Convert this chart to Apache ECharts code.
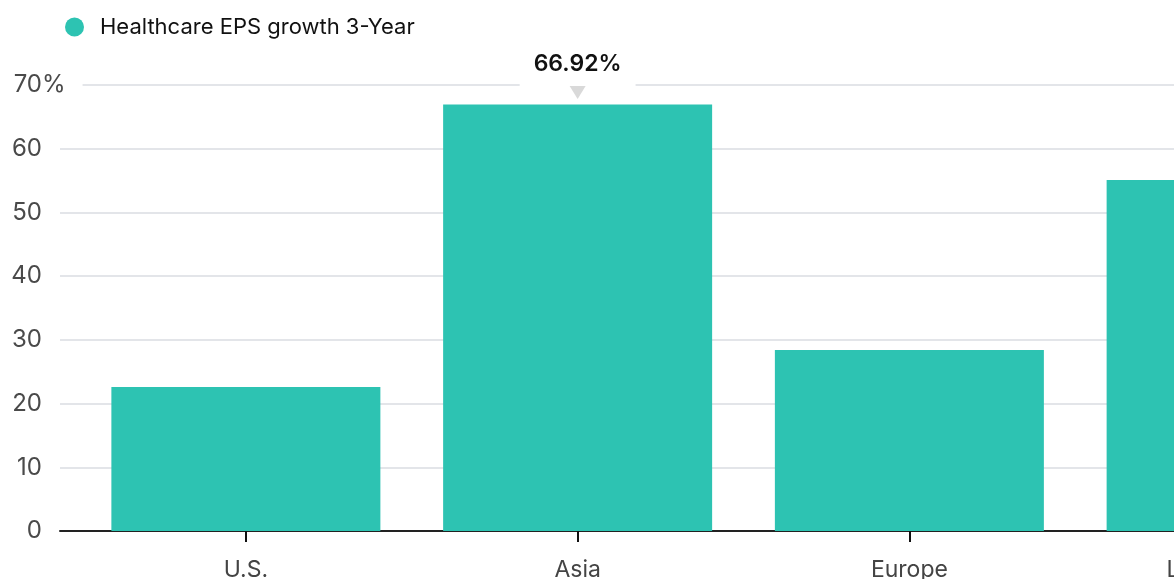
<!DOCTYPE html>
<html>
<head>
<meta charset="utf-8">
<script src="https://cdn.jsdelivr.net/npm/echarts@6/dist/echarts.min.js"></script>
<style>
  html, body { margin: 0; padding: 0; background: #fff; overflow: hidden; }
  .barChart { width: 1420px; height: 600px; }
</style>
</head>
<body>
<div class="barChart"></div>
<script>
// data
const categories = ['U.S.', 'Asia', 'Europe', 'Latin America'];
const epsGrowth = [22.6, 66.92, 28.4, 55.1];
const seriesName = 'Healthcare EPS growth 3-Year';
const yTicks = [0, 10, 20, 30, 40, 50, 60, 70];

const teal = '#2dc3b2';
const font = 'Inter, "Noto Sans", sans-serif';

class BarChart {
  constructor() {
    this.chartDom = document.querySelector('.barChart');
    this.mChart = echarts.init(this.chartDom);
  }

  setOption() {
    const yMin = yTicks[0], yMax = yTicks[yTicks.length - 1];
    // highlighted bar (the one with the tooltip-like label)
    const hi = 1;
    const data = epsGrowth.map((v, i) => i !== hi ? v : {
      value: v,
      label: {
        show: true,
        position: 'top',
        distance: 18,
        formatter: '{c}%',
        fontFamily: font,
        fontSize: 23,
        fontWeight: 600,
        color: '#111',
        backgroundColor: '#fff',
        padding: [9, 14, 11, 14]
      }
    });

    const gridBox = { right: 13, top: 85, height: 446 };

    this.option = {
      animation: false,
      textStyle: { fontFamily: font },
      legend: {
        left: 60,
        top: 11,
        icon: 'circle',
        itemWidth: 19,
        itemHeight: 19,
        itemGap: 10,
        textStyle: { fontSize: 22, color: '#111', fontFamily: font, padding: [0, 0, 0, 11] },
        data: [seriesName]
      },
      grid: [
        // background: gridlines, y labels, baseline
        Object.assign({ left: 60 }, gridBox),
        // bars
        Object.assign({ left: 80 }, gridBox),
        // '%' suffix on the top tick
        Object.assign({ left: 60 }, gridBox)
      ],
      xAxis: [
        {
          gridIndex: 0, type: 'value', min: 0, max: 1,
          axisLine: { show: true, lineStyle: { color: '#222', width: 2 } },
          axisTick: { show: false }, axisLabel: { show: false }, splitLine: { show: false }
        },
        {
          gridIndex: 1, type: 'category', data: categories,
          axisLine: { show: false },
          axisTick: { show: true, alignWithLabel: true, length: 11, lineStyle: { color: '#111', width: 2 } },
          axisLabel: { margin: 28, fontSize: 23, color: '#444', fontFamily: font }
        },
        { gridIndex: 2, type: 'value', min: 0, max: 1, show: false }
      ],
      yAxis: [
        {
          gridIndex: 0, type: 'value', min: yMin, max: yMax, interval: 10,
          axisLine: { show: false }, axisTick: { show: false },
          splitLine: { lineStyle: { color: '#e3e5e9', width: 2 } },
          axisLabel: { margin: 18, fontSize: 24, color: '#4a4a4a', fontFamily: font }
        },
        {
          gridIndex: 1, type: 'value', min: yMin, max: yMax, interval: 10, show: false
        },
        {
          gridIndex: 2, type: 'value', position: 'left', min: yMin, max: yMax, interval: 10,
          axisLine: { show: false }, axisTick: { show: false }, splitLine: { show: false },
          axisLabel: {
            margin: 18, align: 'left',
            formatter: v => v === yMax ? '{p|%}' : '',
            rich: {
              p: {
                fontSize: 24, color: '#4a4a4a', fontFamily: font,
                backgroundColor: '#fff', padding: [2, 17, 2, 0]
              }
            }
          }
        }
      ],
      series: [
        {
          name: seriesName,
          type: 'bar',
          xAxisIndex: 1,
          yAxisIndex: 1,
          barWidth: 269,
          itemStyle: { color: teal },
          data: data,
          markPoint: {
            symbol: 'triangle',
            symbolRotate: 180,
            symbolSize: [16, 13],
            symbolOffset: [0, -12],
            itemStyle: { color: '#d9d9d9' },
            label: { show: false },
            data: [{ coord: [categories[hi], epsGrowth[hi]] }]
          }
        }
      ]
    };
  }

  run() {
    this.setOption();
    this.option && this.mChart.setOption(this.option);
  }
}

new BarChart().run();
</script>
</body>
</html>
